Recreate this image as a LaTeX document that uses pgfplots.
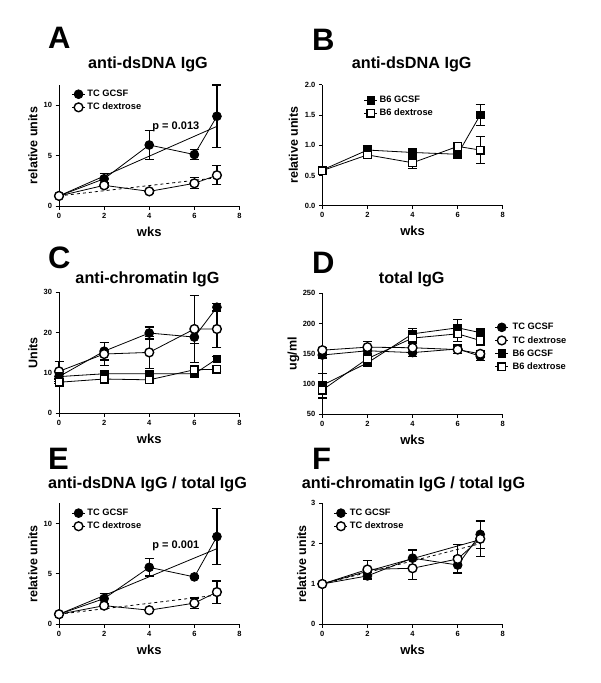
\documentclass[border=0pt]{standalone}
\usepackage{fontspec}
\setmainfont{Liberation Sans}
\usepackage{pgfplots}
\pgfplotsset{compat=1.18}
\pgfplotsset{
  gp/.style={scale only axis, width=180.5pt, height=121pt, axis lines*=left,
    xmin=0, xmax=8, ymin=0, xtick={0,2,4,6,8},
    tick align=outside, major tick length=3.5pt,
    tick style={black, line width=0.9pt}, axis line style={line width=0.9pt},
    every tick label/.append style={font=\fontsize{7.5}{8}\selectfont\bfseries},
    /pgf/number format/assume math mode=true,
    xlabel={wks},
    xlabel style={at={(axis description cs:0.5,0)}, anchor=base, yshift=-30pt, font=\fontsize{13}{14}\selectfont\bfseries},
    ylabel style={at={(axis description cs:-0.144,0.5)}, anchor=center, font=\fontsize{12.5}{14}\selectfont\bfseries},
    clip=false, legend cell align=left,
    legend style={draw=none, fill=none, font=\fontsize{9.3}{11}\selectfont\bfseries, anchor=north west, row sep=1pt, inner sep=0pt},
    legend image code/.code={\draw[mark repeat=2,mark phase=2] plot coordinates {(0pt,0pt)(6.5pt,0pt)(13pt,0pt)};},
  },
  gcsf/.style={black, line width=0.8pt, mark=*, mark size=4.4pt, mark options={solid, fill=black, line width=0.8pt}},
  dex/.style={black, line width=0.8pt, mark=*, mark size=4.4pt, mark options={solid, fill=white, line width=1.4pt}},
  bg/.style={black, line width=0.8pt, mark=square*, mark size=3.8pt, mark options={solid, fill=black, line width=0.8pt}},
  bd/.style={black, line width=0.8pt, mark=square*, mark size=3.8pt, mark options={solid, fill=white, line width=1.4pt}},
  eb/.style={error bars/y dir=both, error bars/y explicit, error bars/error bar style={line width=1.2pt, solid},
    error bars/error mark options={rotate=90, mark size=4.5pt, line width=1.2pt}},
}
\newcommand{\ttl}{\fontsize{16.2}{18}\selectfont\bfseries}
\newcommand{\lett}{\fontsize{31}{33}\selectfont\bfseries}
\tikzset{letter/.style={anchor=base west, inner sep=0pt, font=\lett, text depth=0pt},
  ptitle/.style={anchor=base, inner sep=0pt, font=\ttl, text height=11.8pt}}
\begin{document}
\begin{tikzpicture}
\useasboundingbox (0pt,0pt) rectangle (600pt,-683pt);
% ---------- A ----------
\node[letter] at (48pt,-48pt) {A};
\node[ptitle] at (148pt,-68pt) {anti-dsDNA IgG};
\begin{axis}[gp, at={(59pt,-206pt)}, anchor=south west, ymax=12, ytick={0,5,10}, ylabel={relative units},
  legend style={at={(axis description cs:0.069,0.975)}}]
\addplot[gcsf, eb] table[x=x, y=y, y error=e, row sep=\\] {x y e\\ 0 1 0\\ 2 2.7 0.5\\ 4 6.05 1.45\\ 6 5.1 0.5\\ 7 8.9 3.1\\};
\addlegendentry{TC GCSF}
\addplot[dex, eb] table[x=x, y=y, y error=e, row sep=\\] {x y e\\ 0 1 0\\ 2 2.05 0.25\\ 4 1.45 0.2\\ 6 2.25 0.55\\ 7 3.05 0.95\\};
\addlegendentry{TC dextrose}
\addplot[black, line width=0.8pt, forget plot] coordinates {(0,1) (7,7.9)};
\addplot[black, line width=0.8pt, dashed, forget plot] coordinates {(0,1) (7,2.8)};
\node[anchor=base, font=\fontsize{11}{12}\selectfont\bfseries, inner sep=0pt] at (axis cs:5.18,7.57) {p = 0.013};
\end{axis}
% ---------- B ----------
\node[letter] at (312pt,-50pt) {B};
\node[ptitle] at (411.7pt,-68.3pt) {anti-dsDNA IgG};
\begin{axis}[gp, at={(322.3pt,-205.7pt)}, anchor=south west, ymax=2, ytick={0,0.5,1,1.5,2},
  yticklabel style={/pgf/number format/.cd, fixed, fixed zerofill, precision=1},
  ylabel={relative units}, ylabel style={at={(axis description cs:-0.16,0.5)}},
  legend style={at={(axis description cs:0.229,0.923)}}]
\addplot[bg, eb] table[x=x, y=y, y error=e, row sep=\\] {x y e\\ 0 0.59 0.04\\ 2 0.92 0.08\\ 4 0.88 0.04\\ 6 0.85 0.04\\ 7 1.5 0.17\\};
\addlegendentry{B6 GCSF}
\addplot[bd, eb] table[x=x, y=y, y error=e, row sep=\\] {x y e\\ 0 0.58 0.03\\ 2 0.84 0.05\\ 4 0.71 0.09\\ 6 0.98 0.06\\ 7 0.92 0.22\\};
\addlegendentry{B6 dextrose}
\end{axis}
% ---------- C ----------
\node[letter] at (48pt,-268.3pt) {C};
\node[ptitle] at (147.5pt,-283.3pt) {anti-chromatin IgG};
\begin{axis}[gp, at={(59pt,-413.3pt)}, anchor=south west, ymax=30, ytick={0,10,20,30}, ylabel={Units}]
\addplot[gcsf, eb] table[x=x, y=y, y error=e, row sep=\\] {x y e\\ 0 9.1 0.8\\ 2 15.4 2.2\\ 4 19.9 1.5\\ 6 18.9 1.5\\ 7 26.3 1.0\\};
\addplot[dex, eb] table[x=x, y=y, y error=e, row sep=\\] {x y e\\ 0 10.4 2.5\\ 2 14.7 2.9\\ 4 15.1 3.9\\ 6 20.9 8.4\\ 7 20.9 4.6\\};
\addplot[bg, eb] table[x=x, y=y, y error=e, row sep=\\] {x y e\\ 0 9.1 0.5\\ 2 9.8 0.5\\ 4 9.8 0.5\\ 6 9.8 0.5\\ 7 13.5 0.6\\};
\addplot[bd, eb] table[x=x, y=y, y error=e, row sep=\\] {x y e\\ 0 7.7 0.4\\ 2 8.5 0.4\\ 4 8.3 0.4\\ 6 10.8 0.5\\ 7 10.9 0.6\\};
\end{axis}
% ---------- D ----------
\node[letter] at (312pt,-273.3pt) {D};
\node[ptitle] at (411.7pt,-283.3pt) {total IgG};
\begin{axis}[gp, at={(322.3pt,-414.3pt)}, anchor=south west, ymin=50, ymax=250, ytick={50,100,150,200,250},
  ylabel={ug/ml}, ylabel style={at={(axis description cs:-0.16,0.5)}},
  legend style={at={(axis description cs:0.955,0.77)}, column sep=2pt}]
\addplot[gcsf, eb] table[x=x, y=y, y error=e, row sep=\\] {x y e\\ 0 148 5\\ 2 155 8\\ 4 152 6\\ 6 158 8\\ 7 146 7\\};
\addlegendentry{TC GCSF}
\addplot[dex, eb] table[x=x, y=y, y error=e, row sep=\\] {x y e\\ 0 156 5\\ 2 161 10\\ 4 160 8\\ 6 157 6\\ 7 150 6\\};
\addlegendentry{TC dextrose}
\addplot[bg, eb] table[x=x, y=y, y error=e, row sep=\\] {x y e\\ 0 98 20\\ 2 135 6\\ 4 183 9\\ 6 193 14\\ 7 185 5\\};
\addlegendentry{B6 GCSF}
\addplot[bd, eb] table[x=x, y=y, y error=e, row sep=\\] {x y e\\ 0 90 14\\ 2 142 6\\ 4 176 8\\ 6 183 12\\ 7 172 8\\};
\addlegendentry{B6 dextrose}
\end{axis}
% ---------- E ----------
\node[letter] at (48pt,-469pt) {E};
\node[ptitle] at (147.5pt,-488.3pt) {anti-dsDNA IgG / total IgG};
\begin{axis}[gp, at={(59pt,-624.3pt)}, anchor=south west, ymax=12, ytick={0,5,10}, ylabel={relative units},
  legend style={at={(axis description cs:0.069,0.97)}}]
\addplot[gcsf, eb] table[x=x, y=y, y error=e, row sep=\\] {x y e\\ 0 1 0\\ 2 2.55 0.5\\ 4 5.65 0.85\\ 6 4.7 0.15\\ 7 8.7 2.8\\};
\addlegendentry{TC GCSF}
\addplot[dex, eb] table[x=x, y=y, y error=e, row sep=\\] {x y e\\ 0 1 0\\ 2 1.85 0.25\\ 4 1.4 0.15\\ 6 2.1 0.5\\ 7 3.2 1.1\\};
\addlegendentry{TC dextrose}
\addplot[black, line width=0.8pt, forget plot] coordinates {(0,1) (7,7.5)};
\addplot[black, line width=0.8pt, dashed, forget plot] coordinates {(0,1) (7,2.9)};
\node[anchor=base, font=\fontsize{11}{12}\selectfont\bfseries, inner sep=0pt] at (axis cs:5.18,7.55) {p = 0.001};
\end{axis}
% ---------- F ----------
\node[letter] at (312pt,-469pt) {F};
\node[ptitle] at (413.5pt,-488.3pt) {anti-chromatin IgG / total IgG};
\begin{axis}[gp, at={(322.3pt,-624.3pt)}, anchor=south west, ymax=3, ytick={0,1,2,3},
  ylabel={relative units}, ylabel style={at={(axis description cs:-0.114,0.5)}},
  legend style={at={(axis description cs:0.064,0.97)}}]
\addplot[gcsf, eb] table[x=x, y=y, y error=e, row sep=\\] {x y e\\ 0 1 0\\ 2 1.2 0.08\\ 4 1.64 0.2\\ 6 1.47 0.2\\ 7 2.23 0.35\\};
\addlegendentry{TC GCSF}
\addplot[dex, eb] table[x=x, y=y, y error=e, row sep=\\] {x y e\\ 0 1 0\\ 2 1.36 0.22\\ 4 1.39 0.27\\ 6 1.62 0.35\\ 7 2.12 0.43\\};
\addlegendentry{TC dextrose}
\addplot[black, line width=0.8pt, forget plot] coordinates {(0,1) (7,2.1)};
\addplot[black, line width=0.8pt, dashed, forget plot] coordinates {(0,1) (7,2.0)};
\end{axis}
\end{tikzpicture}
\end{document}
